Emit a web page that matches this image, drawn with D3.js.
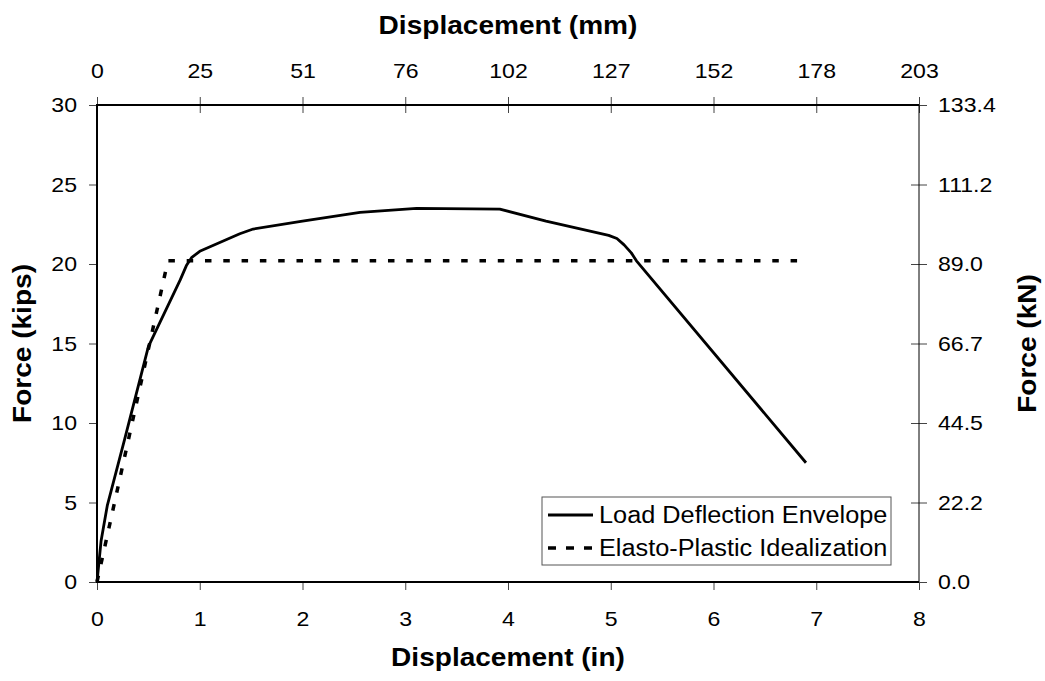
<!DOCTYPE html>
<html><head><meta charset="utf-8">
<script src="https://cdn.jsdelivr.net/npm/d3@7"></script>
<style>body{margin:0;background:#fff}svg{display:block}text{font-family:"Liberation Sans",Arial,sans-serif;fill:#000}</style>
</head><body><svg id="c" width="1045" height="681"></svg>
<script>
// Data
const envelopeX = [0, 0.04, 0.1, 0.27, 0.5, 0.81, 0.87, 0.92, 1.0, 1.39, 1.52, 2.0, 2.56, 3.11, 3.92, 4.37, 4.98, 5.06, 5.13, 5.2, 5.25, 6.9];
const envelopeY = [0, 2.6, 4.8, 9.0, 14.8, 19.0, 19.9, 20.4, 20.8, 21.9, 22.2, 22.7, 23.25, 23.5, 23.45, 22.7, 21.8, 21.6, 21.2, 20.7, 20.2, 7.5];
const idealX = [0, 0.69, 6.9];
const idealY = [0, 20.2, 20.2];
const inTicks = [0, 1, 2, 3, 4, 5, 6, 7, 8];
const mmLabels = ["0", "25", "51", "76", "102", "127", "152", "178", "203"];
const kipTicks = [0, 5, 10, 15, 20, 25, 30];
const knLabels = ["0.0", "22.2", "44.5", "66.7", "89.0", "111.2", "133.4"];
const seriesNames = ["Load Deflection Envelope", "Elasto-Plastic Idealization"];

const svg = d3.select("#c");
const L = 97, R = 919, T = 105, B = 582;
const x = d3.scaleLinear().domain([0, 8]).range([L, R]);
const y = d3.scaleLinear().domain([0, 30]).range([B, T]);
const STRETCH = 1.1;

// axes
const gL = svg.append("g").attr("transform", `translate(${L},0)`)
  .call(d3.axisLeft(y).tickValues(kipTicks).tickSize(8).tickPadding(12));
const gB = svg.append("g").attr("transform", `translate(0,${B})`)
  .call(d3.axisBottom(x).tickValues(inTicks).tickSize(8).tickPadding(21));
const gT = svg.append("g").attr("transform", `translate(0,${T})`)
  .call(d3.axisTop(x).tickValues(inTicks).tickSize(8).tickPadding(19).tickFormat((d, i) => mmLabels[i]));
const gR = svg.append("g").attr("transform", `translate(${R},0)`)
  .call(d3.axisRight(y).tickValues(kipTicks).tickSize(8).tickPadding(11).tickFormat((d, i) => knLabels[i]));

[gL, gB, gT, gR].forEach(g => {
  g.select(".domain").remove();
  g.selectAll(".tick line").attr("stroke", "#444").attr("stroke-width", 1);
  g.selectAll(".tick text").style("font-size", "21px").attr("fill", "#000");
});
// crossing ticks on top and right
gT.selectAll(".tick line").attr("y1", 8).attr("y2", -8);
gR.selectAll(".tick line").attr("x1", -8).attr("x2", 8);

// frame lines
svg.append("line").attr("x1", L).attr("x2", L).attr("y1", T - 1).attr("y2", B + 1).attr("stroke", "#000").attr("stroke-width", 2);
svg.append("line").attr("x1", L - 1).attr("x2", R).attr("y1", B).attr("y2", B).attr("stroke", "#000").attr("stroke-width", 2);
svg.append("line").attr("x1", L - 1).attr("x2", R).attr("y1", T).attr("y2", T).attr("stroke", "#000").attr("stroke-width", 2);
svg.append("line").attr("x1", R).attr("x2", R).attr("y1", T).attr("y2", B).attr("stroke", "#000").attr("stroke-width", 1);

// series
const line = d3.line().x(d => x(d[0])).y(d => y(d[1]));
const envData = envelopeX.map((v, i) => [v, envelopeY[i]]);
const idData = idealX.map((v, i) => [v, idealY[i]]);
svg.append("path").datum(idData).attr("d", line).attr("fill", "none")
  .attr("stroke", "#000").attr("stroke-width", 3.5).attr("stroke-dasharray", "6.5,11.8");
svg.append("path").datum(envData).attr("d", line).attr("fill", "none")
  .attr("stroke", "#000").attr("stroke-width", 2.8).attr("stroke-linejoin", "round");

// legend
const lg = svg.append("g");
lg.append("rect").attr("x", 542).attr("y", 497).attr("width", 349).attr("height", 68)
  .attr("fill", "#fff").attr("stroke", "#555").attr("stroke-width", 1);
const rowsY = [515, 548];
lg.append("line").attr("x1", 548).attr("x2", 593).attr("y1", rowsY[0]).attr("y2", rowsY[0])
  .attr("stroke", "#000").attr("stroke-width", 2.8);
lg.append("line").attr("x1", 548).attr("x2", 593).attr("y1", rowsY[1]).attr("y2", rowsY[1])
  .attr("stroke", "#000").attr("stroke-width", 3.5).attr("stroke-dasharray", "8,10");
seriesNames.forEach((n, i) => {
  lg.append("text").attr("x", 599).attr("y", rowsY[i]).attr("dy", "0.36em")
    .style("font-size", "23px").text(n);
});

// titles
svg.append("text").attr("x", (L + R) / 2).attr("y", 34).attr("text-anchor", "middle")
  .style("font-size", "25.5px").style("font-weight", "bold").text("Displacement (mm)");
svg.append("text").attr("x", (L + R) / 2).attr("y", 666).attr("text-anchor", "middle")
  .style("font-size", "25.5px").style("font-weight", "bold").text("Displacement (in)");
svg.append("text").attr("transform", `translate(31,${(T + B) / 2}) rotate(-90)`).attr("text-anchor", "middle")
  .style("font-size", "25.5px").style("font-weight", "bold").text("Force (kips)");
svg.append("text").attr("transform", `translate(1036,${(T + B) / 2}) rotate(-90)`).attr("text-anchor", "middle")
  .style("font-size", "25.5px").style("font-weight", "bold").text("Force (kN)");

// horizontal stretch to mimic reference glyph widths
svg.selectAll("text").each(function () {
  const w = this.getComputedTextLength();
  d3.select(this).attr("textLength", w * STRETCH).attr("lengthAdjust", "spacingAndGlyphs");
});
</script></body></html>
